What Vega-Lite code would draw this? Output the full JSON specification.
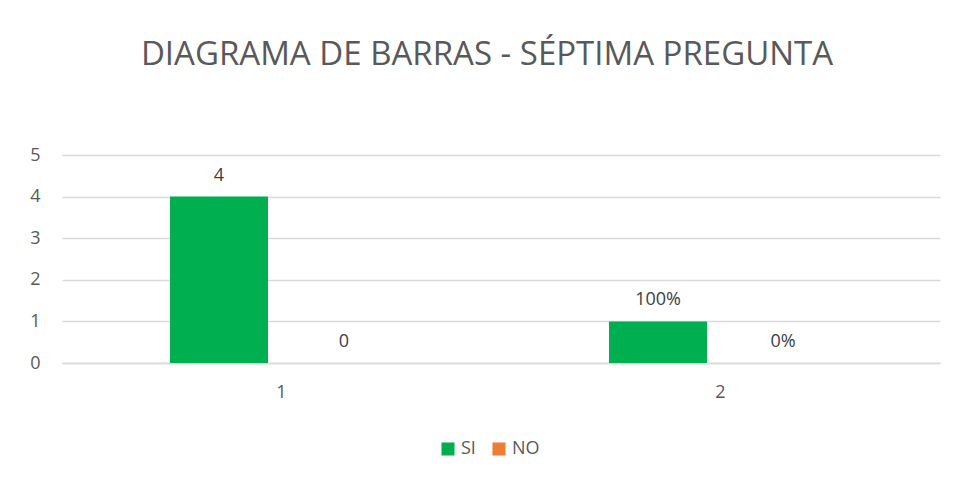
{
  "$schema": "https://vega.github.io/schema/vega-lite/v6.json",
  "autosize": "none",
  "width": 878,
  "height": 208,
  "padding": {"left": 62, "top": 155, "right": 18, "bottom": 117},
  "background": "white",
  "config": {"view": {"stroke": null}},
  "title": {
    "text": "DIAGRAMA DE BARRAS - SÉPTIMA PREGUNTA",
    "font": "Open Sans",
    "fontSize": 33,
    "fontWeight": "normal",
    "color": "#595959",
    "anchor": "middle",
    "dx": -14,
    "offset": 74
  },
  "data": {
    "values": [
      {"grupo": "1", "serie": "SI", "valor": 4, "etiqueta": "4"},
      {"grupo": "1", "serie": "NO", "valor": 0, "etiqueta": "0"},
      {"grupo": "2", "serie": "SI", "valor": 1, "etiqueta": "100%"},
      {"grupo": "2", "serie": "NO", "valor": 0, "etiqueta": "0%"}
    ]
  },
  "encoding": {
    "x": {
      "field": "grupo",
      "type": "nominal",
      "title": null,
      "scale": {"paddingInner": 0, "paddingOuter": 0},
      "axis": {
        "labelAngle": 0,
        "labelFont": "Open Sans",
        "labelFontSize": 18,
        "labelColor": "#595959",
        "labelPadding": 20,
        "ticks": false,
        "domainColor": "#d9d9d9",
        "domainWidth": 1.5
      }
    },
    "xOffset": {
      "field": "serie",
      "type": "nominal",
      "sort": ["SI", "NO"],
      "scale": {"paddingInner": 0.216, "paddingOuter": 0.864}
    },
    "y": {
      "field": "valor",
      "type": "quantitative",
      "title": null,
      "scale": {"domain": [0, 5]},
      "axis": {
        "values": [0, 1, 2, 3, 4, 5],
        "labelFont": "Open Sans",
        "labelFontSize": 18,
        "labelColor": "#595959",
        "labelPadding": 22,
        "ticks": false,
        "domain": false,
        "gridColor": "#d9d9d9",
        "gridWidth": 1.5
      }
    }
  },
  "layer": [
    {
      "mark": {"type": "bar"},
      "encoding": {
        "color": {
          "field": "serie",
          "type": "nominal",
          "sort": ["SI", "NO"],
          "scale": {"domain": ["SI", "NO"], "range": ["#00B050", "#ED7D31"]},
          "legend": {
            "title": null,
            "orient": "none",
            "direction": "horizontal",
            "legendX": 377,
            "legendY": 285,
            "symbolType": "square",
            "symbolSize": 170,
            "symbolStrokeWidth": 0,
            "labelFont": "Open Sans",
            "labelFontSize": 18,
            "labelColor": "#595959",
            "labelOffset": 4,
            "columnPadding": 14
          }
        }
      }
    },
    {
      "mark": {
        "type": "text",
        "font": "Open Sans",
        "fontSize": 18,
        "color": "#404040",
        "baseline": "alphabetic",
        "dy": -16
      },
      "encoding": {
        "text": {"field": "etiqueta"}
      }
    }
  ]
}
